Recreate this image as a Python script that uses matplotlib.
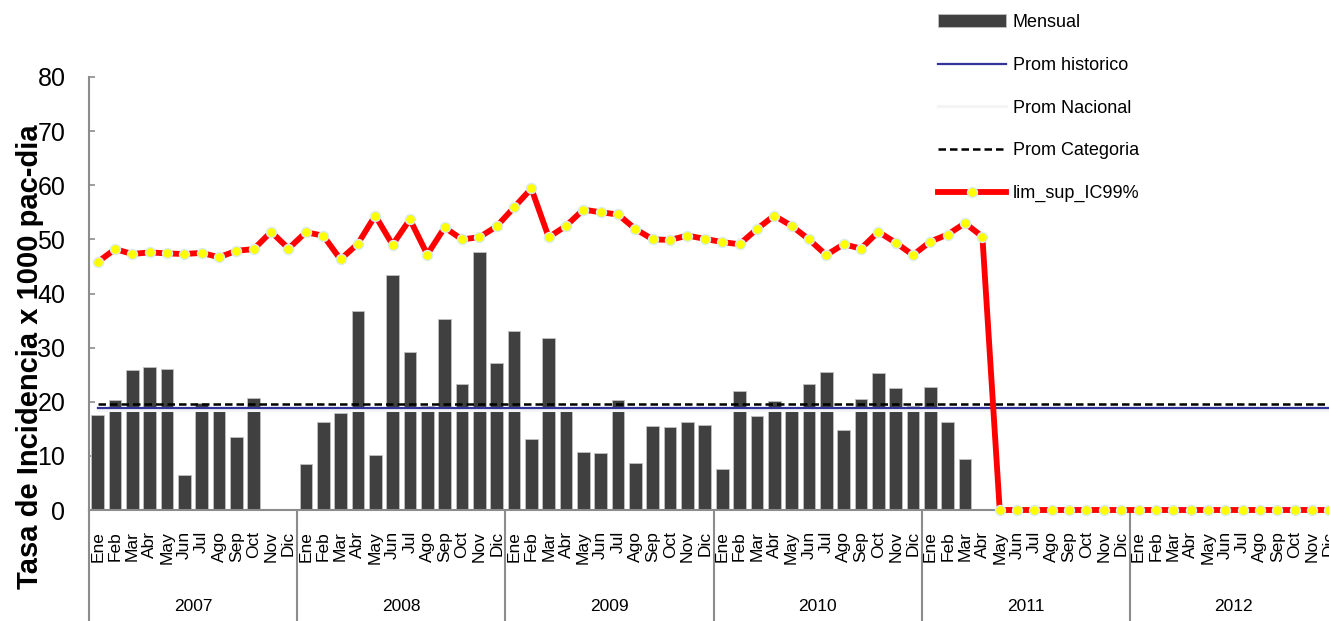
import matplotlib
matplotlib.use("Agg")
import matplotlib.pyplot as plt
import matplotlib.transforms as mtransforms
import numpy as np

plt.rcParams['font.family'] = ['Liberation Sans', 'DejaVu Sans']

nan = np.nan
years = ['2007', '2008', '2009', '2010', '2011', '2012']
months = ['Ene', 'Feb', 'Mar', 'Abr', 'May', 'Jun', 'Jul', 'Ago', 'Sep', 'Oct', 'Nov', 'Dic']

# tasa mensual (barras)
mensual = [17.5, 20.4, 25.8, 26.5, 26.1, 6.5, 19.8, 18.9, 13.5, 20.7, nan, nan,
           8.5, 16.2, 18.0, 36.8, 10.2, 43.5, 29.1, 19.3, 35.3, 23.3, 47.6, 27.1,
           33.0, 13.2, 31.8, 18.9, 10.7, 10.5, 20.4, 8.7, 15.5, 15.3, 16.2, 15.7,
           7.5, 21.9, 17.4, 20.2, 18.9, 23.3, 25.5, 14.7, 20.6, 25.4, 22.5, 19.2,
           22.7, 16.3, 9.4, nan, nan, nan, nan, nan, nan, nan, nan, nan,
           nan, nan, nan, nan, nan, nan, nan, nan, nan, nan, nan, nan]

# limite superior IC99%
lim_sup = [45.8, 48.2, 47.3, 47.6, 47.4, 47.3, 47.5, 46.7, 47.9, 48.2, 51.4, 48.3,
           51.3, 50.7, 46.3, 49.2, 54.4, 49.0, 53.7, 47.2, 52.2, 50.0, 50.4, 52.4,
           55.9, 59.4, 50.4, 52.5, 55.5, 55.0, 54.6, 51.9, 50.0, 49.9, 50.7, 50.1,
           49.5, 49.1, 51.9, 54.4, 52.5, 50.0, 47.1, 49.1, 48.3, 51.4, 49.4, 47.1,
           49.6, 50.9, 53.0, 50.5, 0, 0, 0, 0, 0, 0, 0, 0,
           0, 0, 0, 0, 0, 0, 0, 0, 0, 0, 0, 0]

prom_historico = 18.85
prom_nacional = 18.4
prom_categoria = 19.6

GREY = '#8c8c8c'

n = len(mensual)
x = np.arange(n)
labels = months * len(years)

fig = plt.figure(figsize=(13.29, 6.21), dpi=100)
ax = fig.add_axes([89 / 1329, 1 - 510 / 621, 1249 / 1329, 433 / 621])

bars = ax.bar(x, mensual, width=0.73, color='#404040', edgecolor='#c0c0c0', linewidth=0.6,
              label='Mensual', zorder=2)
l_hist, = ax.plot(x, [prom_historico] * n, color='#333399', lw=1.6, label='Prom historico', zorder=4)
l_nac, = ax.plot(x, [prom_nacional] * n, color='#f4f4f4', lw=2.2, label='Prom Nacional', zorder=3)
l_cat, = ax.plot(x, [prom_categoria] * n, color='black', lw=1.8, ls=(0, (3, 1.6)),
                 label='Prom Categoria', zorder=4)
l_lim, = ax.plot(x, lim_sup, color='red', lw=4.2, marker='o', ms=7.2, mfc='yellow',
                 mec='#d8ecec', mew=1.0, label='lim_sup_IC99%', zorder=6, clip_on=False)

ax.set_xlim(-0.5, n - 0.5)
ax.set_ylim(0, 80)
ax.set_yticks(range(0, 81, 10))
ax.tick_params(axis='y', direction='in', length=4, width=1.2, color=GREY,
               labelsize=18, pad=17)
ax.set_xticks(x, labels, rotation=90)
ax.tick_params(axis='x', length=0, labelsize=12.5, pad=15)

for s in ['top', 'right']:
    ax.spines[s].set_visible(False)
for s in ['left', 'bottom']:
    ax.spines[s].set_color(GREY)
    ax.spines[s].set_linewidth(1.5)

trans = mtransforms.blended_transform_factory(ax.transData, ax.transAxes)
for i, yr in enumerate(years):
    ax.plot([i * 12 - 0.5] * 2, [0, -0.26], transform=trans, color=GREY, lw=1.5,
            clip_on=False)
    ax.text(i * 12 + 5.5, -0.223, yr, transform=trans, ha='center', va='center',
            fontsize=12.5)

fig.text(30 / 1329, 1 - 357 / 621, 'Tasa de Incidencia x 1000 pac-dia', rotation=90,
         ha='center', va='center', fontsize=21, fontweight='bold')

fig.legend([bars, l_hist, l_nac, l_cat, l_lim],
           ['Mensual', 'Prom historico', 'Prom Nacional', 'Prom Categoria', 'lim_sup_IC99%'],
           loc='upper left', bbox_to_anchor=(938 / 1329, 1 - 14 / 621), frameon=False,
           fontsize=13, handlelength=3.75, handletextpad=0.4, labelspacing=1.43,
           borderpad=0, borderaxespad=0)

fig.savefig('out.png', dpi=100)
